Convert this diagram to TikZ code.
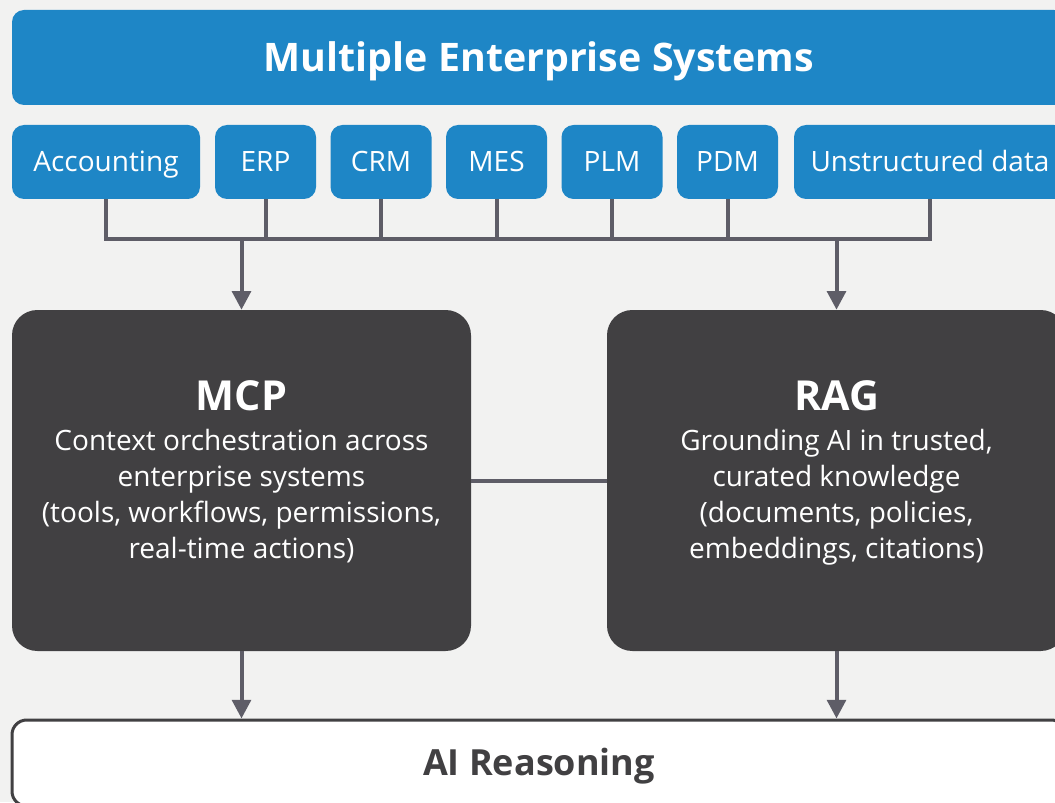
\documentclass[tikz,border=0pt]{standalone}
\usepackage{fontspec}
\setmainfont{Open Sans}
\usetikzlibrary{arrows.meta}
\definecolor{sysblue}{HTML}{1E86C6}
\definecolor{boxgray}{HTML}{414042}
\definecolor{linegray}{HTML}{5E5D67}
\definecolor{paper}{HTML}{F2F2F1}
\begin{document}
\begin{tikzpicture}[x=0.75pt,y=-0.75pt,
    sys/.style={fill=sysblue,text=white,rounded corners=9pt,minimum height=55.5pt,
      text height=15pt,text depth=0pt,font=\fontsize{21}{25}\selectfont},
    big/.style={fill=boxgray,text=white,rounded corners=19pt,minimum width=344.25pt,
      minimum height=255.75pt,align=center,font=\fontsize{21}{27}\selectfont},
    link/.style={draw=linegray,line width=3pt},
    arr/.style={link,-{Triangle[width=14pt,length=14pt]}}]
  \useasboundingbox (0,0) rectangle (1055,802);
  \fill[paper] (0,0) rectangle (1055,802);
  \clip (0,0) rectangle (1055,802);
  \node[fill=sysblue,text=white,rounded corners=9pt,minimum width=790.5pt,minimum height=71.25pt,
    text height=21pt,text depth=0pt,font=\fontsize{29.5}{36}\selectfont\bfseries] (top) at (539,57.5) {Multiple Enterprise Systems};
  \node[sys,minimum width=141pt] (acc) at (106,162) {Accounting};
  \node[sys,minimum width=75.75pt] (erp) at (265.5,162) {ERP};
  \node[sys,minimum width=75.75pt] (crm) at (381,162) {CRM};
  \node[sys,minimum width=75.75pt] (mes) at (496.5,162) {MES};
  \node[sys,minimum width=75.75pt] (plm) at (612,162) {PLM};
  \node[sys,minimum width=75.75pt] (pdm) at (727.5,162) {PDM};
  \node[sys,minimum width=204pt] (uns) at (930,162) {Unstructured data};
  \node[big] (mcp) at (241.5,480.5) {{\fontsize{31}{36}\selectfont\bfseries MCP}\\[3pt]
    Context orchestration across\\ enterprise systems\\ (tools, workflows, permissions,\\ real-time actions)\\[-11pt]};
  \node[big] (rag) at (836.5,480.5) {{\fontsize{31}{36}\selectfont\bfseries RAG}\\[3pt]
    Grounding AI in trusted,\\ curated knowledge\\ (documents, policies,\\ embeddings, citations)\\[-11pt]};
  \node[draw=boxgray,line width=2.25pt,fill=white,rounded corners=11pt,minimum width=790.5pt,
    minimum height=64.5pt] (ai) at (539,763) {};
  \node[text=boxgray,font=\fontsize{27}{32}\selectfont\bfseries] (ailabel) at (539,766) {AI Reasoning};
  \coordinate (bus) at (0,239);
  \draw[link] (acc.south) -- (acc.south |- bus) -- (uns.south |- bus) -- (uns.south);
  \foreach \s in {erp,crm,mes,plm,pdm}
    \draw[link] (\s.south) -- (\s.south |- bus);
  \draw[arr] (bus -| mcp.north) -- (mcp.north);
  \draw[arr] (bus -| rag.north) -- (rag.north);
  \draw[link] (mcp.east) -- (rag.west);
  \draw[arr] (mcp.south) -- (mcp.south |- ai.north);
  \draw[arr] (rag.south) -- (rag.south |- ai.north);
\end{tikzpicture}
\end{document}
